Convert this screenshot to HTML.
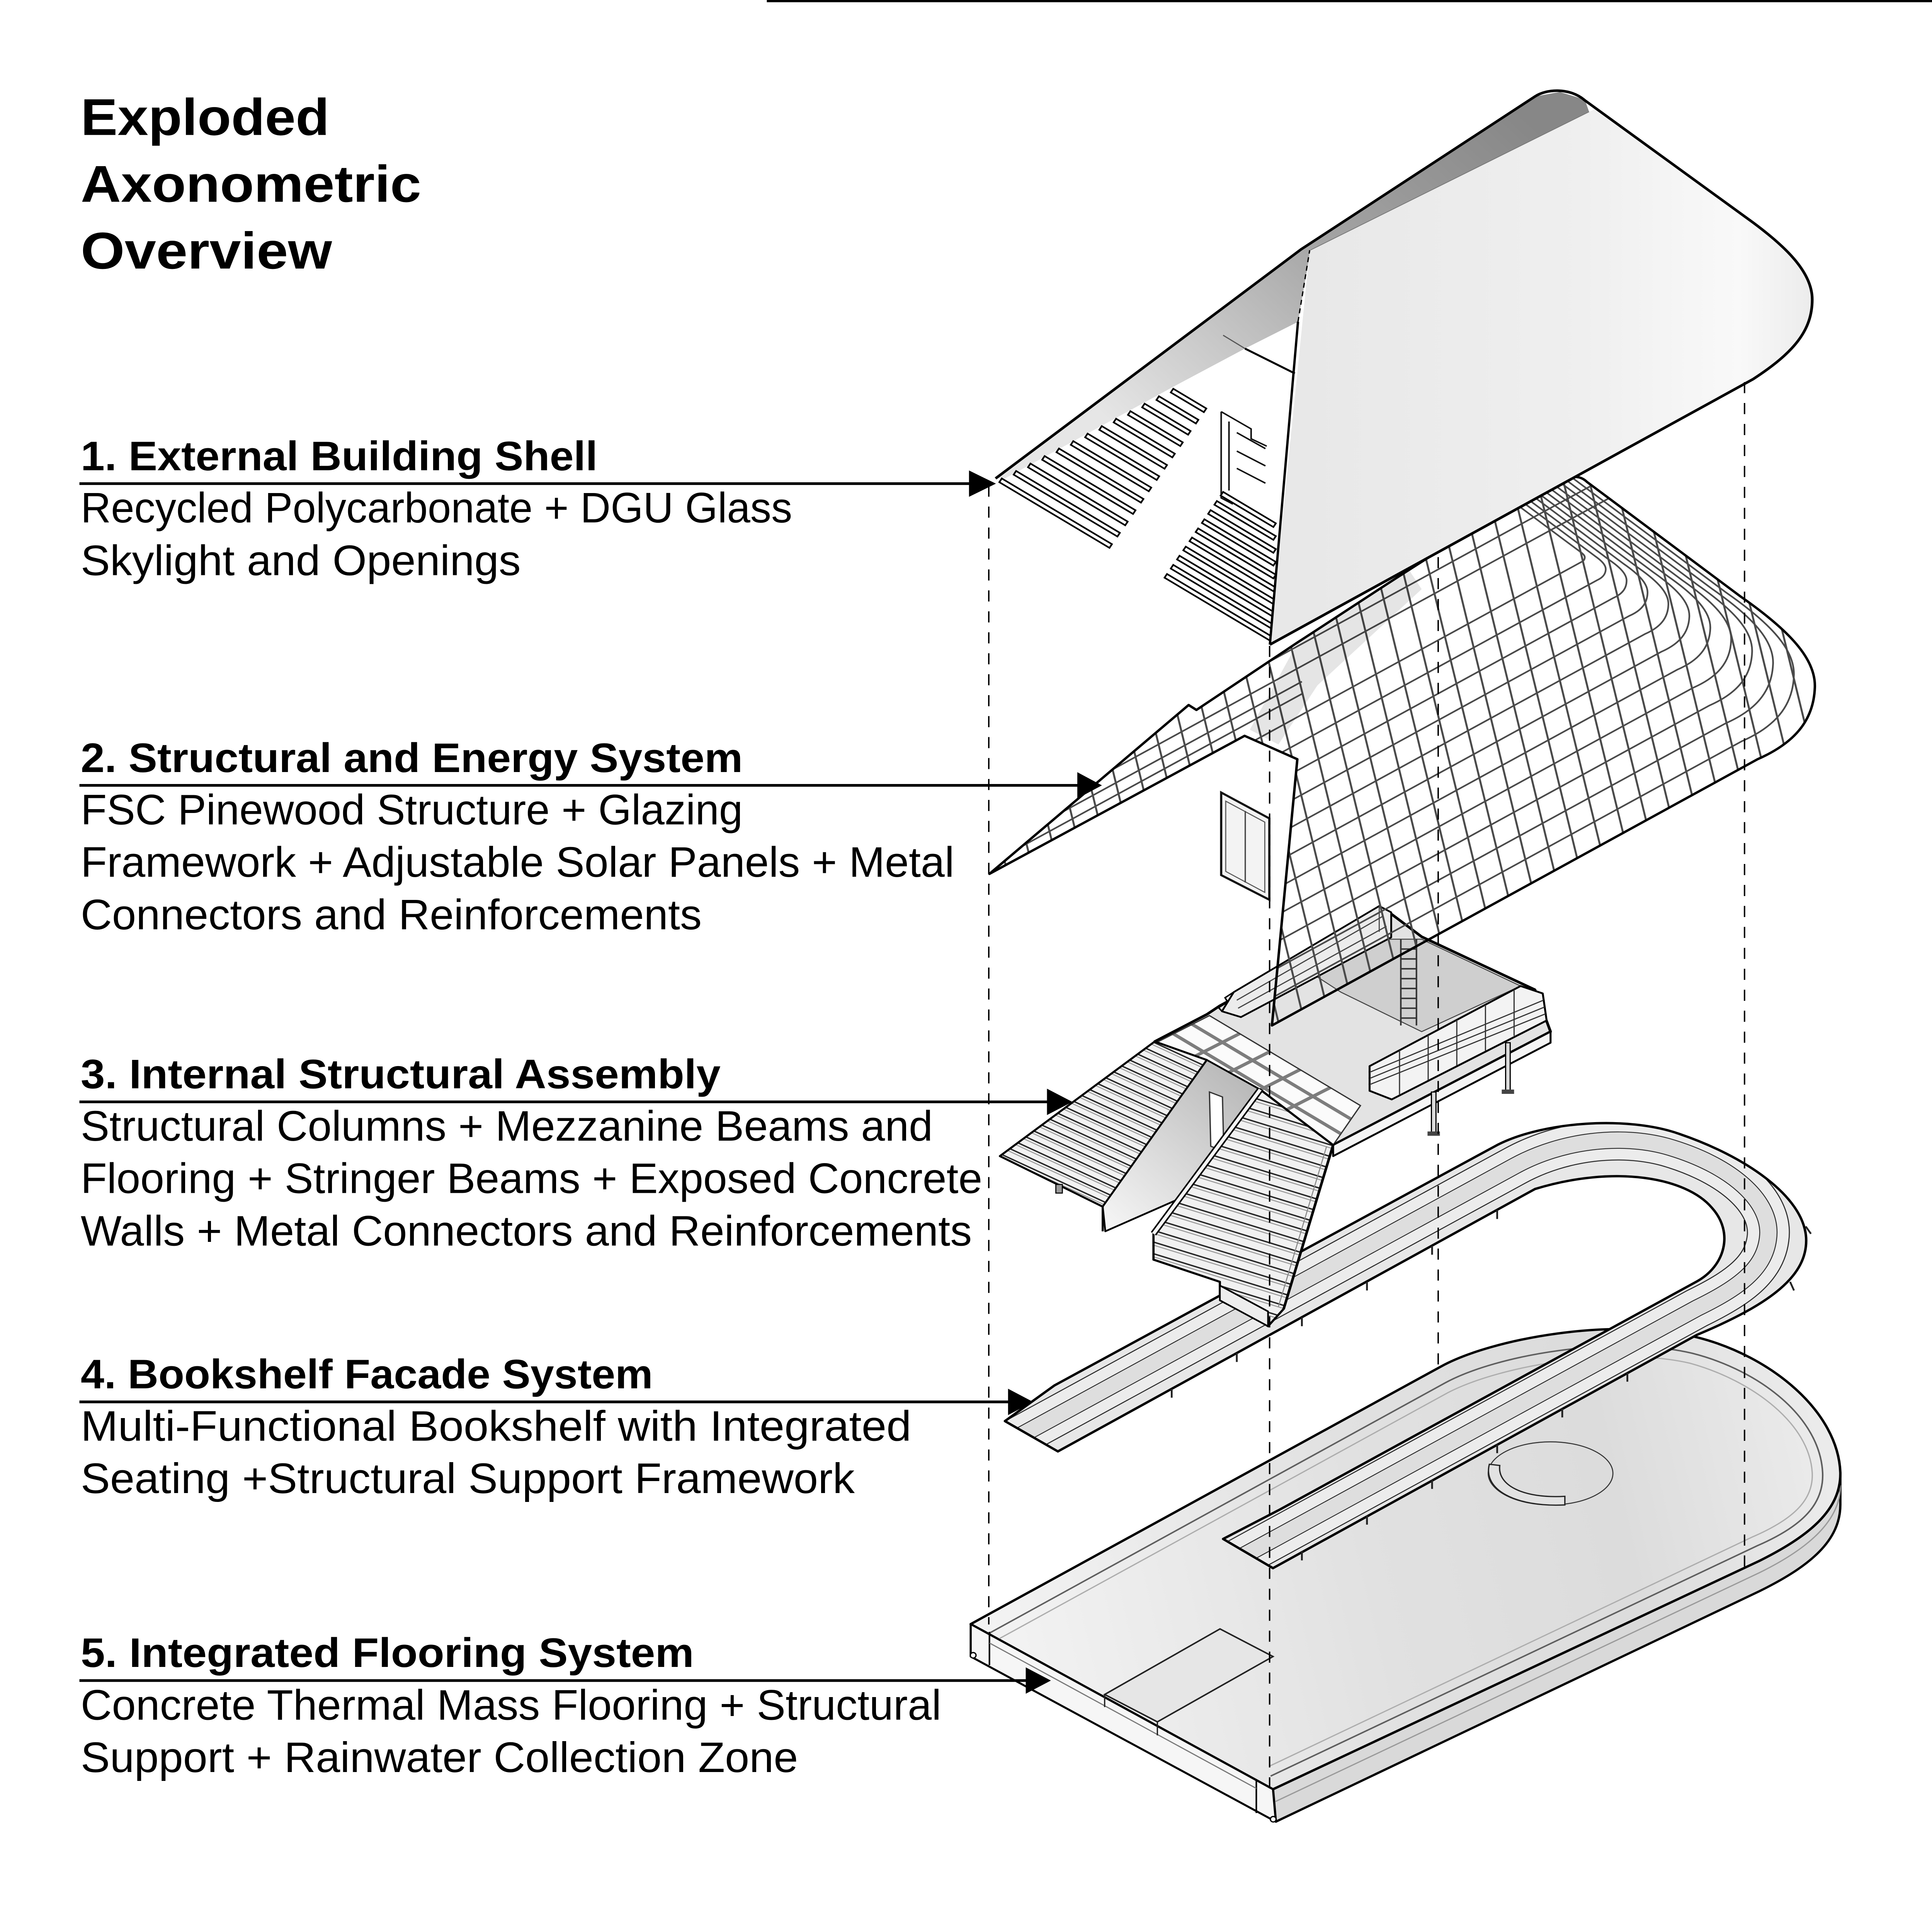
<!DOCTYPE html>
<html>
<head>
<meta charset="utf-8">
<style>
html,body{margin:0;padding:0;background:#fff;overflow:hidden;width:100%;height:100%;}
svg{display:block;position:absolute;left:0;top:0;width:100vw;height:100vh;}
text{font-family:"Liberation Sans",Arial,sans-serif;fill:#000;}
</style>
</head>
<body>
<svg xmlns="http://www.w3.org/2000/svg" viewBox="0 0 1484 1567.5" preserveAspectRatio="none">
<defs>
  <linearGradient id="bandG" gradientUnits="userSpaceOnUse" x1="1160" y1="85" x2="880" y2="370">
    <stop offset="0" stop-color="#878787"/>
    <stop offset="0.45" stop-color="#a4a4a4"/>
    <stop offset="0.75" stop-color="#c9c9c9"/>
    <stop offset="1" stop-color="#e6e6e6"/>
  </linearGradient>
  <linearGradient id="panelG" gradientUnits="userSpaceOnUse" x1="1000" y1="0" x2="1395" y2="0">
    <stop offset="0" stop-color="#e8e8e8"/>
    <stop offset="0.55" stop-color="#efefef"/>
    <stop offset="0.85" stop-color="#f9f9f9"/>
    <stop offset="1" stop-color="#ebebeb"/>
  </linearGradient>
  <linearGradient id="floorG" gradientUnits="userSpaceOnUse" x1="760" y1="1320" x2="1400" y2="1180">
    <stop offset="0" stop-color="#f3f3f3"/>
    <stop offset="0.45" stop-color="#e1e1e1"/>
    <stop offset="0.75" stop-color="#dcdcdc"/>
    <stop offset="1" stop-color="#ebebeb"/>
  </linearGradient>
  <linearGradient id="wallG" gradientUnits="userSpaceOnUse" x1="960" y1="880" x2="855" y2="995">
    <stop offset="0" stop-color="#b9b9b9"/>
    <stop offset="1" stop-color="#f4f4f4"/>
  </linearGradient>
  <pattern id="gB" patternUnits="userSpaceOnUse" width="19.5" height="40" patternTransform="rotate(-13)">
    <line x1="9.75" y1="0" x2="9.75" y2="40" stroke="#4a4a4a" stroke-width="1.5"/>
  </pattern>
  <pattern id="treadL" patternUnits="userSpaceOnUse" width="60" height="7" patternTransform="rotate(26)">
    <rect width="60" height="7" fill="#f2f2f2"/>
    <line x1="0" y1="0.6" x2="60" y2="0.6" stroke="#222" stroke-width="1.1"/>
    <line x1="0" y1="2.7" x2="60" y2="2.7" stroke="#9a9a9a" stroke-width="0.8"/>
  </pattern>
  <pattern id="treadR" patternUnits="userSpaceOnUse" width="60" height="9" patternTransform="rotate(18)">
    <rect width="60" height="9" fill="#f1f1f1"/>
    <line x1="0" y1="0.6" x2="60" y2="0.6" stroke="#222" stroke-width="1.1"/>
    <line x1="0" y1="3" x2="60" y2="3" stroke="#9a9a9a" stroke-width="0.8"/>
  </pattern>
  <clipPath id="gridClip">
    <path d="M760,709 L913,572 L919,576 L997,521 C1060,478 1140,420 1203,389 C1208,386 1214,386 1219,391 L1337,484 C1375,512 1395,535 1394,558 C1393,585 1378,603 1350,616 L977,832 L996.5,616 L956,597 Z"/>
  </clipPath>
  <clipPath id="lsClip"><polygon points="768,938 887,845 927,860 847,979"/></clipPath>
  <clipPath id="rsClip"><polygon points="968,884 1024,929 986,1062 974,1076 937,1051 937,1040 886,1022 886,1001"/></clipPath>
  <clipPath id="beamClip"><polygon points="888,846 929,824 1045,897 1024,929 968,884 927,860"/></clipPath>
  <clipPath id="uClip">
    <path d="M810,1124 L1150,929 C1185,910 1250,905 1290,920 C1340,938 1385,970 1387.3,1004 C1389,1035 1360,1058 1303.5,1083 L977.8,1272.3 L939.5,1248.6 L982.6,1225 L1303.5,1039.6 C1325,1027 1332,1000 1315,980 C1295,955 1240,945 1179,964.7 L812.6,1177.6 L771.9,1153 Z"/>
  </clipPath>
</defs>

<rect x="0" y="0" width="1484" height="1567.5" fill="#fff"/>
<line x1="589" y1="0.9" x2="1484" y2="0.9" stroke="#000" stroke-width="1.8"/>

<!-- ========== 5. FLOOR ========== -->
<path d="M977.8,1451.7 L1351.4,1266.4 C1390,1246 1414,1225 1413.6,1195 L1413.6,1220 C1414,1250 1390,1271 1351.4,1291 L980,1478 Z" fill="#d9d9d9" stroke="#000" stroke-width="1.8" stroke-linejoin="round"/>
<path d="M979,1462 L1351.4,1276 C1390,1256 1414,1233 1413.6,1205" fill="none" stroke="#9a9a9a" stroke-width="1"/>
<path d="M745.6,1317.7 L1107,1108.6 C1146,1086 1240,1068 1303.5,1085 C1360,1100 1412,1145 1413.6,1195 C1414,1225 1390,1246 1351.4,1266.4 L977.8,1451.7 Z" fill="url(#floorG)" stroke="#000" stroke-width="1.9" stroke-linejoin="round"/>
<path d="M760,1325 L1110,1122 C1150,1099 1240,1083 1300,1098 C1352,1112 1398,1150 1400,1195 C1401,1220 1385,1238 1350,1254 L976,1441" fill="none" stroke="#5e5e5e" stroke-width="1.2"/>
<path d="M765,1331 L1112,1130 C1152,1108 1240,1092 1298,1106 C1346,1120 1390,1155 1392,1195 C1393,1216 1379,1232 1346,1247 L975,1433" fill="none" stroke="#adadad" stroke-width="1"/>
<path d="M745.6,1317.7 L977.8,1451.7 L980,1478 L745.6,1344 Z" fill="#f6f6f6" stroke="#000" stroke-width="1.6" stroke-linejoin="round"/>
<line x1="760" y1="1324" x2="760" y2="1351" stroke="#000" stroke-width="1.2"/>
<line x1="965" y1="1444" x2="965" y2="1471" stroke="#000" stroke-width="1.2"/>
<line x1="760" y1="1333" x2="965" y2="1451" stroke="#777" stroke-width="0.9"/>
<circle cx="747.5" cy="1343" r="2.2" fill="#fff" stroke="#000" stroke-width="1"/>
<circle cx="978" cy="1476" r="2.2" fill="#fff" stroke="#000" stroke-width="1"/>
<polygon points="848.5,1374.8 937.1,1321.6 977.8,1344 889,1397" fill="#e6e6e6" stroke="#222" stroke-width="1.2"/>
<line x1="848.5" y1="1374.8" x2="848.5" y2="1385" stroke="#222" stroke-width="1"/>
<line x1="889" y1="1397" x2="889" y2="1408" stroke="#222" stroke-width="1"/>
<ellipse cx="1191" cy="1195.4" rx="47.9" ry="25.6" fill="none" stroke="#333" stroke-width="0.8"/>
<path d="M1144,1188 C1139,1208 1163,1223 1202,1221 L1202,1214 C1170,1216 1150,1205 1152,1189 Z" fill="#e2e2e2" stroke="#222" stroke-width="1"/>

<!-- ========== 4. BOOKSHELF U ========== -->
<path d="M810,1124 L1150,929 C1185,910 1250,905 1290,920 C1340,938 1385,970 1387.3,1004 C1389,1035 1360,1058 1303.5,1083 L977.8,1272.3 L939.5,1248.6 L982.6,1225 L1303.5,1039.6 C1325,1027 1332,1000 1315,980 C1295,955 1240,945 1179,964.7 L812.6,1177.6 L771.9,1153 Z" fill="#e7e7e7"/>
<g clip-path="url(#uClip)" fill="none">
  <path d="M740,1190 L1164,945.7 C1200,925 1245,920 1280,930 C1330,945 1362,975 1358,1005 C1355,1030 1335,1045 1303.5,1061.3 L900,1294" stroke="#2a2a2a" stroke-width="33"/>
  <path d="M740,1190 L1164,945.7 C1200,925 1245,920 1280,930 C1330,945 1362,975 1358,1005 C1355,1030 1335,1045 1303.5,1061.3 L900,1294" stroke="#ececec" stroke-width="31.4"/>
  <path d="M740,1190 L1164,945.7 C1200,925 1245,920 1280,930 C1330,945 1362,975 1358,1005 C1355,1030 1335,1045 1303.5,1061.3 L900,1294" stroke="#2a2a2a" stroke-width="14"/>
  <path d="M740,1190 L1164,945.7 C1200,925 1245,920 1280,930 C1330,945 1362,975 1358,1005 C1355,1030 1335,1045 1303.5,1061.3 L900,1294" stroke="#dedede" stroke-width="12.6"/>
</g>
<path d="M810,1124 L1150,929 C1185,910 1250,905 1290,920 C1340,938 1385,970 1387.3,1004 C1389,1035 1360,1058 1303.5,1083 L977.8,1272.3 L939.5,1248.6 L982.6,1225 L1303.5,1039.6 C1325,1027 1332,1000 1315,980 C1295,955 1240,945 1179,964.7 L812.6,1177.6 L771.9,1153 Z" fill="none" stroke="#000" stroke-width="1.9" stroke-linejoin="round"/>
<g stroke="#222" stroke-width="1.4">
  <line x1="900" y1="1126.8" x2="900" y2="1134"/><line x1="950" y1="1097.8" x2="950" y2="1105"/>
  <line x1="1000" y1="1068.7" x2="1000" y2="1076"/><line x1="1050" y1="1039.7" x2="1050" y2="1047"/>
  <line x1="1100" y1="1010.6" x2="1100" y2="1018"/><line x1="1150" y1="981.6" x2="1150" y2="989"/>
  <line x1="1000" y1="1258.4" x2="1000" y2="1266"/><line x1="1050" y1="1229.5" x2="1050" y2="1237"/>
  <line x1="1100" y1="1200.6" x2="1100" y2="1208"/><line x1="1150" y1="1171.7" x2="1150" y2="1179"/>
  <line x1="1200" y1="1142.8" x2="1200" y2="1150"/><line x1="1250" y1="1113.9" x2="1250" y2="1121"/>
  <line x1="1375" y1="1040" x2="1378" y2="1047"/><line x1="1387" y1="995" x2="1391" y2="1001"/>
</g>

<!-- ========== 3. INTERNAL ASSEMBLY ========== -->
<polygon points="887,845 927,823 937,816 1068,741 1092,760 1179,803 1191,837 1024,929 968,884 927,860" fill="#e3e3e3" stroke="#000" stroke-width="2.1" stroke-linejoin="round"/>
<polygon points="1011,792 1061,762 1092,762 1168,800 1092,837 1030,805" fill="#cfcfcf" stroke="#444" stroke-width="0.8"/>
<polygon points="947.7,804.9 1059.4,735.1 1068.6,740.2 1068.6,760.5 953.2,825.2 938.6,820.5" fill="#ececec" stroke="#000" stroke-width="1.4" stroke-linejoin="round"/>
<line x1="950" y1="811.5" x2="1062" y2="743.5" stroke="#444" stroke-width="0.9"/>
<line x1="951" y1="818" x2="1065" y2="751.5" stroke="#444" stroke-width="0.9"/>
<line x1="1059.4" y1="735.1" x2="1059.4" y2="756" stroke="#444" stroke-width="0.8"/>
<polyline points="947.7,804.9 941,809.5 943,813 936,817.5 938.6,820.5" fill="none" stroke="#000" stroke-width="1.2"/>
<g stroke="#333" stroke-width="1.2">
  <line x1="1076" y1="762" x2="1076" y2="832"/><line x1="1088" y1="762" x2="1088" y2="832"/>
  <line x1="1076" y1="770" x2="1088" y2="770"/><line x1="1076" y1="778" x2="1088" y2="778"/>
  <line x1="1076" y1="786" x2="1088" y2="786"/><line x1="1076" y1="794" x2="1088" y2="794"/>
  <line x1="1076" y1="802" x2="1088" y2="802"/><line x1="1076" y1="810" x2="1088" y2="810"/>
  <line x1="1076" y1="818" x2="1088" y2="818"/><line x1="1076" y1="826" x2="1088" y2="826"/>
</g>
<polygon points="888,846 929,824 1045,897 1024,929 968,884 927,860" fill="#fbfbfb"/>
<g clip-path="url(#beamClip)" stroke="#7d7d7d" stroke-width="2.6">
  <line x1="895" y1="818" x2="1060" y2="922"/>
  <line x1="881" y1="826" x2="1046" y2="930"/>
  <line x1="866" y1="834" x2="1031" y2="938"/>
  <line x1="972.7" y1="827.6" x2="890.7" y2="871.6"/>
  <line x1="995.9" y1="842.2" x2="913.9" y2="886.2"/>
  <line x1="1019.1" y1="856.8" x2="937.1" y2="900.8"/>
  <line x1="1042.3" y1="871.4" x2="960.3" y2="915.4"/>
</g>
<polygon points="888,846 929,824 1045,897 1024,929 968,884 927,860" fill="none" stroke="#333" stroke-width="1"/>
<polygon points="1052,865 1168,800 1185,806 1188,828 1069,892 1052,885" fill="#f3f3f3" stroke="#000" stroke-width="1.5" stroke-linejoin="round"/>
<g stroke="#333" stroke-width="0.9">
  <line x1="1052" y1="870" x2="1185.5" y2="811.5"/>
  <line x1="1052" y1="875" x2="1186.5" y2="817"/>
  <line x1="1052" y1="880" x2="1187.3" y2="822.5"/>
  <line x1="1075" y1="852.1" x2="1075" y2="888.4"/>
  <line x1="1097" y1="839.8" x2="1097" y2="876.4"/>
  <line x1="1119" y1="827.5" x2="1119" y2="864.4"/>
  <line x1="1141" y1="815.1" x2="1141" y2="852.4"/>
  <line x1="1163" y1="802.8" x2="1163" y2="840.4"/>
</g>
<polygon points="1024,929 1191,837 1191,846 1024,938" fill="#f5f5f5" stroke="#000" stroke-width="1.5" stroke-linejoin="round"/>
<rect x="1099.5" y="886" width="3.5" height="34" fill="#dcdcdc" stroke="#000" stroke-width="0.9"/>
<rect x="1096.5" y="918" width="9.5" height="3.5" fill="#444"/>
<rect x="1156.5" y="846" width="3.5" height="40" fill="#dcdcdc" stroke="#000" stroke-width="0.9"/>
<rect x="1153.5" y="884" width="9.5" height="3.5" fill="#444"/>
<!-- left stair -->
<rect x="760" y="840" width="170" height="145" fill="url(#treadL)" clip-path="url(#lsClip)"/>
<polygon points="768,938 887,845 927,860 847,979" fill="none" stroke="#000" stroke-width="1.6" stroke-linejoin="round"/>
<rect x="811" y="961" width="5" height="7" fill="#999" stroke="#000" stroke-width="0.8"/>
<!-- concrete wall -->
<polygon points="927,860 968,884 905,973 849,999 847,979" fill="url(#wallG)" stroke="#000" stroke-width="1.4" stroke-linejoin="round"/>
<line x1="847" y1="979" x2="847" y2="999" stroke="#000" stroke-width="1.6"/>
<polygon points="929,886 939,890 940,934 930,930" fill="#fff" stroke="#333" stroke-width="1"/>
<!-- right stair -->
<rect x="880" y="880" width="150" height="200" fill="url(#treadR)" clip-path="url(#rsClip)"/>
<polygon points="968,884 1024,929 986,1062 974,1076 937,1051 937,1040 886,1022 886,1001" fill="none" stroke="#000" stroke-width="1.7" stroke-linejoin="round"/>
<line x1="968" y1="884" x2="886" y2="1001" stroke="#000" stroke-width="5"/>
<line x1="968" y1="884" x2="886" y2="1001" stroke="#f7f7f7" stroke-width="2.6"/>
<line x1="1024" y1="929" x2="986" y2="1062" stroke="#000" stroke-width="2"/>
<line x1="1019" y1="930" x2="982" y2="1060" stroke="#888" stroke-width="0.8"/>
<polygon points="937,1043 974,1064 974,1076 937,1055" fill="#ededed" stroke="#000" stroke-width="1.3"/>

<!-- ========== 2. GRID SHELL ========== -->
<g clip-path="url(#gridClip)">
  <rect x="750" y="380" width="660" height="460" fill="url(#gB)"/>
  <g fill="none" stroke="#4a4a4a" stroke-width="1.3">
    <path d="M1141.6,335.6 L1217.8,395.6 L1325.8,480.7 C1360.6,506.3 1378.9,527.4 1377.9,548.4 C1377.0,573.1 1363.3,589.6 1337.7,601.5 L760,934.8"/>
    <path d="M1140.4,340.2 L1216.6,400.2 L1314.6,477.4 C1346.1,500.6 1362.7,519.7 1361.9,538.8 C1361.0,561.2 1348.6,576.1 1325.4,586.9 L760,913.1"/>
    <path d="M1139.2,344.8 L1215.4,404.8 L1303.3,474.1 C1331.7,494.9 1346.6,512.1 1345.8,529.2 C1345.1,549.3 1333.9,562.7 1313.0,572.4 L760,891.5"/>
    <path d="M1138.0,349.4 L1214.2,409.4 L1292.1,470.7 C1317.2,489.2 1330.4,504.4 1329.7,519.6 C1329.1,537.4 1319.2,549.3 1300.7,557.9 L760,869.9"/>
    <path d="M1136.9,354.0 L1213.1,414.0 L1280.9,467.4 C1302.8,483.5 1314.3,496.8 1313.7,510.0 C1313.1,525.5 1304.5,535.9 1288.4,543.3 L760,848.2"/>
    <path d="M1135.7,358.5 L1211.9,418.5 L1269.7,464.1 C1288.3,477.8 1298.1,489.1 1297.6,500.4 C1297.1,513.6 1289.8,522.4 1276.1,528.8 L760,826.6"/>
    <path d="M1134.5,363.1 L1210.7,423.1 L1258.5,460.8 C1273.9,472.1 1282.0,481.5 1281.5,490.8 C1281.1,501.7 1275.1,509.0 1263.7,514.3 L760,804.9"/>
    <path d="M1133.3,367.7 L1209.5,427.7 L1247.2,457.5 C1259.4,466.4 1265.8,473.8 1265.5,481.2 C1265.2,489.8 1260.4,495.6 1251.4,499.7 L760,783.2"/>
    <path d="M1132.1,372.3 L1208.3,432.3 L1236.0,454.2 C1245.0,460.7 1249.7,466.2 1249.4,471.6 C1249.2,477.9 1245.7,482.1 1239.1,485.2 L760,761.6"/>
    <path d="M1130.9,376.9 L1207.1,436.9 L1224.8,450.9 C1230.5,455.1 1233.5,458.5 1233.4,462.0 C1233.2,466.0 1231.0,468.7 1226.8,470.7 L760,740.0"/>
    <path d="M1129.7,381.5 L1205.9,441.5 L1213.6,447.5 C1216.1,449.4 1217.4,450.9 1217.3,452.3 C1217.2,454.1 1216.2,455.3 1214.4,456.1 L760,718.3"/>
  </g>
  <g stroke="#4a4a4a" stroke-width="1.3">
    <line x1="760" y1="678.9" x2="1250" y2="396.1"/>
    <line x1="760" y1="660.9" x2="1250" y2="378.1"/>
    <line x1="760" y1="691" x2="1000" y2="553"/>
    <line x1="760" y1="701" x2="1000" y2="563"/>
  </g>
  <polygon points="960,592 997,521 1082,462 1092,478 1012,556 982,604" fill="#000" opacity="0.10"/>
</g>
<path d="M760,709 L913,572 L919,576 L997,521 C1060,478 1140,420 1203,389 C1208,386 1214,386 1219,391 L1337,484 C1375,512 1395,535 1394,558 C1393,585 1378,603 1350,616 L977,832 L996.5,616 L956,597 Z" fill="none" stroke="#000" stroke-width="1.9" stroke-linejoin="round"/>
<polygon points="938,643 975,664 975,730 938,710" fill="#f3f3f3" stroke="#111" stroke-width="1.7"/>
<polygon points="941.5,650 971.5,667 971.5,724 941.5,707" fill="none" stroke="#555" stroke-width="0.8"/>
<line x1="956.5" y1="658" x2="956.5" y2="716" stroke="#444" stroke-width="1"/>

<!-- ========== 1. ROOF ========== -->
<g fill="#fff" stroke="#000" stroke-width="1.3" stroke-linejoin="miter">
  <polygon points="939.5,399.1 980,424.6 978.1,427.6 937.6,402.1"/>
  <polygon points="934.7,406.5 980,435.0 978.1,438.0 932.8,409.5"/>
  <polygon points="929.9,413.9 980,445.5 978.1,448.5 928.0,416.9"/>
  <polygon points="925.1,421.3 980,455.9 978.1,458.9 923.2,424.3"/>
  <polygon points="920.3,428.7 980,466.3 978.1,469.3 918.4,431.7"/>
  <polygon points="915.6,436.1 980,476.7 978.1,479.7 913.7,439.1"/>
  <polygon points="910.8,443.5 980,487.1 978.1,490.1 908.9,446.5"/>
  <polygon points="906.0,450.9 980,497.5 978.1,500.5 904.1,453.9"/>
  <polygon points="901.2,458.3 980,507.9 978.1,510.9 899.3,461.3"/>
  <polygon points="896.4,465.7 980,518.4 978.1,521.4 894.5,468.7"/>
</g>
<path d="M938,334 L938,404 L947,409 M938,334 L961,348 L961,356 L973,362 M944,342 L944,398 M950,351 L972,364 M950,366 L972,378 M950,380 L972,392" fill="none" stroke="#111" stroke-width="1.2"/>
<polygon points="1179,78.3 1198.1,74.6 1217.3,80.8 1220.6,90.7 1006.6,202.9 997,261.1 956.3,282.8 901.2,313.8 771.9,388.2 764.7,388.2 999.4,202.3" fill="url(#bandG)"/>
<path d="M1006,203 L1220.6,90.7 L1226,88.1 L1346.6,180.6 C1370,199 1392,220 1392,243 C1392,268 1378,286 1346.6,307.6 L975.4,523 Z" fill="url(#panelG)"/>
<path d="M764.7,388.2 L999.4,202.3 L1179,78.3 C1188,72 1206,71 1217.3,81.4 L1346.6,180.6 C1370,199 1392,220 1392,243 C1392,268 1378,286 1346.6,307.6 L975.4,523" fill="none" stroke="#000" stroke-width="2.1" stroke-linejoin="round"/>
<line x1="975.4" y1="523" x2="997" y2="261.1" stroke="#000" stroke-width="1.8"/>
<line x1="997" y1="261.1" x2="1006" y2="203" stroke="#000" stroke-width="1" stroke-dasharray="4 3"/>
<line x1="956.3" y1="282.8" x2="994.6" y2="303" stroke="#000" stroke-width="1.6"/>
<line x1="956.3" y1="282.8" x2="939.5" y2="272" stroke="#555" stroke-width="0.9"/>
<line x1="1006.6" y1="202.9" x2="1220.6" y2="90.7" stroke="#777" stroke-width="0.6"/>
<g fill="#fff" stroke="#000" stroke-width="1.3">
  <polygon points="901.2,315.4 926.6,331.4 924.7,334.4 899.3,318.4"/>
  <polygon points="890.2,321.5 920.5,340.6 918.6,343.6 888.3,324.5"/>
  <polygon points="879.2,327.5 914.5,349.7 912.6,352.7 877.3,330.5"/>
  <polygon points="868.3,333.6 908.5,358.9 906.6,361.9 866.4,336.6"/>
  <polygon points="857.3,339.7 902.4,368.1 900.5,371.1 855.4,342.7"/>
  <polygon points="846.3,345.7 896.4,377.3 894.5,380.3 844.4,348.7"/>
  <polygon points="835.4,351.8 890.4,386.4 888.5,389.4 833.5,354.8"/>
  <polygon points="824.4,357.9 884.3,395.6 882.4,398.6 822.5,360.9"/>
  <polygon points="813.4,363.9 878.3,404.8 876.4,407.8 811.5,366.9"/>
  <polygon points="802.4,370.0 872.2,414.0 870.3,417.0 800.5,373.0"/>
  <polygon points="791.5,376.1 866.2,423.2 864.3,426.2 789.6,379.1"/>
  <polygon points="780.5,382.1 860.2,432.3 858.3,435.3 778.6,385.1"/>
  <polygon points="769.5,388.2 854.1,441.5 852.2,444.5 767.6,391.2"/>
</g>

<!-- ========== DASHED PROJECTION LINES ========== -->
<g stroke="#000" stroke-width="1.1" stroke-dasharray="9 8" fill="none">
  <line x1="759.5" y1="394" x2="759.5" y2="1318"/>
  <line x1="975.2" y1="524" x2="975.2" y2="1455"/>
  <line x1="1104.7" y1="452" x2="1104.7" y2="1110"/>
  <line x1="1340" y1="310" x2="1340" y2="1272"/>
</g>

<!-- ========== TEXT ========== -->
<text x="62" y="109.5" font-size="42" font-weight="700" textLength="191" lengthAdjust="spacingAndGlyphs">Exploded</text>
<text x="62" y="163.7" font-size="42" font-weight="700" textLength="261.5" lengthAdjust="spacingAndGlyphs">Axonometric</text>
<text x="62" y="217.9" font-size="42" font-weight="700" textLength="193" lengthAdjust="spacingAndGlyphs">Overview</text>

<text x="62" y="381.6" font-size="33.5" font-weight="700" textLength="397" lengthAdjust="spacingAndGlyphs">1. External Building Shell</text>
<text x="62" y="423.9" font-size="34.5" textLength="546.5" lengthAdjust="spacingAndGlyphs">Recycled Polycarbonate + DGU Glass</text>
<text x="62" y="466.6" font-size="34.5" textLength="338" lengthAdjust="spacingAndGlyphs">Skylight and Openings</text>

<text x="62" y="626.4" font-size="33.5" font-weight="700" textLength="508.5" lengthAdjust="spacingAndGlyphs">2. Structural and Energy System</text>
<text x="62" y="668.9" font-size="34.5" textLength="508.5" lengthAdjust="spacingAndGlyphs">FSC Pinewood Structure + Glazing</text>
<text x="62" y="711.4" font-size="34.5" textLength="671" lengthAdjust="spacingAndGlyphs">Framework + Adjustable Solar Panels + Metal</text>
<text x="62" y="753.9" font-size="34.5" textLength="477" lengthAdjust="spacingAndGlyphs">Connectors and Reinforcements</text>

<text x="62" y="883" font-size="33.5" font-weight="700" textLength="491.5" lengthAdjust="spacingAndGlyphs">3. Internal Structural Assembly</text>
<text x="62" y="925.5" font-size="34.5" textLength="654.5" lengthAdjust="spacingAndGlyphs">Structural Columns + Mezzanine Beams and</text>
<text x="62" y="968" font-size="34.5" textLength="692.5" lengthAdjust="spacingAndGlyphs">Flooring + Stringer Beams + Exposed Concrete</text>
<text x="62" y="1010.5" font-size="34.5" textLength="684.5" lengthAdjust="spacingAndGlyphs">Walls + Metal Connectors and Reinforcements</text>

<text x="62" y="1126.4" font-size="33.5" font-weight="700" textLength="439.5" lengthAdjust="spacingAndGlyphs">4. Bookshelf Facade System</text>
<text x="62" y="1168.9" font-size="34.5" textLength="638" lengthAdjust="spacingAndGlyphs">Multi-Functional Bookshelf with Integrated</text>
<text x="62" y="1211.4" font-size="34.5" textLength="594.5" lengthAdjust="spacingAndGlyphs">Seating +Structural Support Framework</text>

<text x="62" y="1352.5" font-size="33.5" font-weight="700" textLength="471" lengthAdjust="spacingAndGlyphs">5. Integrated Flooring System</text>
<text x="62" y="1395.3" font-size="34.5" textLength="661" lengthAdjust="spacingAndGlyphs">Concrete Thermal Mass Flooring + Structural</text>
<text x="62" y="1437.7" font-size="34.5" textLength="551" lengthAdjust="spacingAndGlyphs">Support + Rainwater Collection Zone</text>

<!-- leader lines + arrowheads -->
<g stroke="#000" stroke-width="2.2">
  <line x1="61" y1="392.4" x2="746" y2="392.4"/>
  <line x1="61" y1="637.2" x2="829" y2="637.2"/>
  <line x1="61" y1="894" x2="806" y2="894"/>
  <line x1="61" y1="1137.4" x2="776" y2="1137.4"/>
  <line x1="61" y1="1363.5" x2="789" y2="1363.5"/>
</g>
<g fill="#000">
  <polygon points="744.3,381.7 765,392.4 744.3,403.1"/>
  <polygon points="827.5,626.5 846.4,637.2 827.5,647.9"/>
  <polygon points="804.2,883.3 823.7,894 804.2,904.7"/>
  <polygon points="774.3,1126.7 793.5,1137.4 774.3,1148.1"/>
  <polygon points="787.9,1352.8 807.2,1363.5 787.9,1374.2"/>
</g>
</svg>
</body>
</html>
